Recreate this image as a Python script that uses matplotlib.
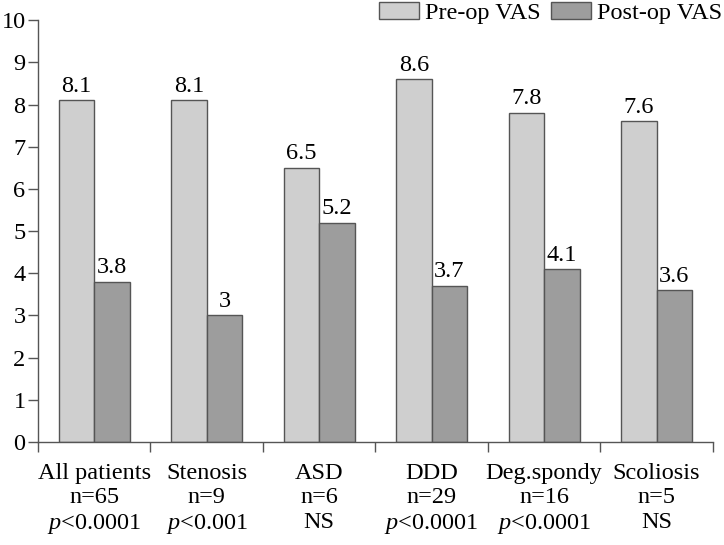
import numpy as np
import matplotlib
matplotlib.use("Agg")
import matplotlib.pyplot as plt

# dati
gruppi = ["All patients", "Stenosis", "ASD", "DDD", "Deg.spondy", "Scoliosis"]
n_pazienti = [65, 9, 6, 29, 16, 5]
p_valori = ["$p$<0.0001", "$p$<0.001", "NS", "$p$<0.0001", "$p$<0.0001", "NS"]
pre_op = [8.1, 8.1, 6.5, 8.6, 7.8, 7.6]
post_op = [3.8, 3.0, 5.2, 3.7, 4.1, 3.6]

plt.rcParams['font.family'] = ['Liberation Serif', 'DejaVu Serif']
plt.rcParams['mathtext.fontset'] = 'custom'
plt.rcParams['mathtext.rm'] = 'Liberation Serif'
plt.rcParams['mathtext.it'] = 'Liberation Serif:italic'

fs = 17.5
grigio = '#555555'

fig = plt.figure(figsize=(7.24, 5.45), dpi=100)
ax = fig.add_axes([0.0525, 0.189, 0.932, 0.774])

x = np.arange(len(gruppi))
w = 0.316
b1 = ax.bar(x - w / 2, pre_op, w, color='#cfcfcf', edgecolor=grigio, linewidth=1, label='Pre-op VAS')
b2 = ax.bar(x + w / 2, post_op, w, color='#9d9d9d', edgecolor=grigio, linewidth=1, label='Post-op VAS')

for barre, valori in [(b1, pre_op), (b2, post_op)]:
    for r, v in zip(barre, valori):
        testo = str(int(v)) if v == int(v) else str(v)
        ax.annotate(testo, (r.get_x() + r.get_width() / 2, v), xytext=(0, 2.5),
                    textcoords='offset points', ha='center', va='bottom', fontsize=fs)

ax.set_xlim(-0.5, 5.5)
ax.set_ylim(0, 10)
ax.set_yticks(range(0, 11))

# etichette su tre righe, tacche sui confini dei gruppi
ax.set_xticks(x)
etichette = [g + "\nn=" + str(n) + "\n" + p for g, n, p in zip(gruppi, n_pazienti, p_valori)]
ax.set_xticklabels(etichette, fontsize=fs, linespacing=1.22)
ax.tick_params(axis='x', which='major', length=0, pad=15)
ax.set_xticks(np.arange(-0.5, 6, 1), minor=True)
ax.tick_params(axis='x', which='minor', length=7.5, width=1, color=grigio, direction='out')
ax.tick_params(axis='y', length=7.5, width=1, color=grigio, labelsize=fs, pad=1.5)

for lato in ['top', 'right']:
    ax.spines[lato].set_visible(False)
for lato in ['left', 'bottom']:
    ax.spines[lato].set_color(grigio)
    ax.spines[lato].set_linewidth(1)

fig.legend(loc='upper right', bbox_to_anchor=(0.998, 0.997), ncol=2, frameon=False,
           fontsize=fs, handlelength=1.65, handleheight=0.7, handletextpad=0.25,
           columnspacing=0.45, borderpad=0, borderaxespad=0)

plt.savefig('out.png', dpi=100)
